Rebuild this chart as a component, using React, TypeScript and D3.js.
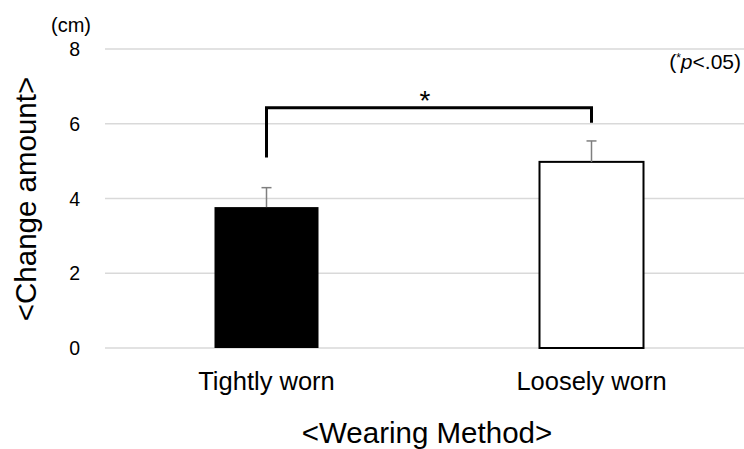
import * as d3 from 'd3';
import React from 'react';

// data
const categories = ['Tightly worn', 'Loosely worn'];
const means = [3.77, 4.98];
const errors = [0.52, 0.56];
const fills = ['#000000', '#ffffff'];
const yTicks = [0, 2, 4, 6, 8];
// significance bracket: left foot, top, right foot (in cm)
const bracket = { left: 5.1, top: 6.43, right: 6.03 };

const W = 744;
const H = 449;
const font = '"Liberation Sans", Arial, sans-serif';

function App() {
  const y = d3.scaleLinear().domain([0, 8]).range([348, 49]);
  const x = d3.scaleBand<string>()
    .domain(categories)
    .range([104, 754])
    .paddingInner(0.68)
    .paddingOuter(0.34);

  const cx = (c: string) => (x(c) as number) + x.bandwidth() / 2;

  const bx0 = cx(categories[0]);
  const bx1 = cx(categories[1]);
  const bracketPath = d3.line()([
    [bx0, y(bracket.left)],
    [bx0, y(bracket.top)],
    [bx1, y(bracket.top)],
    [bx1, y(bracket.right)],
  ]);

  return (
    <svg width={W} height={H} style={{ position: 'absolute', left: 0, top: 0, background: '#fff' }}
      fontFamily={font}>
      {/* gridlines */}
      {yTicks.map(t => (
        <line key={t} x1={105} x2={W} y1={y(t)} y2={y(t)} stroke="#d9d9d9" strokeWidth={1.5} />
      ))}
      {/* tick labels */}
      {yTicks.map(t => (
        <text key={'l' + t} x={80} y={y(t)} dy="0.36em" textAnchor="end" fontSize={19.5} fill="#000">{t}</text>
      ))}
      <text x={71} y={32} textAnchor="middle" fontSize={20} fill="#000">(cm)</text>

      {/* bars */}
      {categories.map((c, i) => (
        <rect key={c} x={x(c)} y={y(means[i])} width={x.bandwidth()} height={y(0) - y(means[i])}
          fill={fills[i]} stroke="#000" strokeWidth={i === 1 ? 2 : 0} />
      ))}
      {/* error bars */}
      {categories.map((c, i) => (
        <g key={'e' + c} stroke="#7f7f7f" strokeWidth={1.5}>
          <line x1={cx(c)} x2={cx(c)} y1={y(means[i])} y2={y(means[i] + errors[i])} />
          <line x1={cx(c) - 5} x2={cx(c) + 5} y1={y(means[i] + errors[i])} y2={y(means[i] + errors[i])} />
        </g>
      ))}

      {/* significance */}
      <path d={bracketPath || ''} fill="none" stroke="#000" strokeWidth={3} />
      <text x={(bx0 + bx1) / 2 - 4} y={110} textAnchor="middle" fontSize={28} fill="#000">*</text>
      <text x={741} y={69} textAnchor="end" fontSize={21} fill="#000">
        (<tspan fontSize={12} dy={-7}>*</tspan><tspan dy={7} fontStyle="italic">p</tspan>&lt;.05)
      </text>

      {/* category labels */}
      {categories.map(c => (
        <text key={'c' + c} x={cx(c)} y={390} textAnchor="middle" fontSize={25.5} fill="#000">{c}</text>
      ))}

      {/* axis titles */}
      <text x={427} y={443} textAnchor="middle" fontSize={29.5} fill="#000">&lt;Wearing Method&gt;</text>
      <text transform={`translate(36,199) rotate(-90)`} textAnchor="middle" fontSize={29.5} fill="#000">
        &lt;Change amount&gt;
      </text>
    </svg>
  );
}

export default App;
